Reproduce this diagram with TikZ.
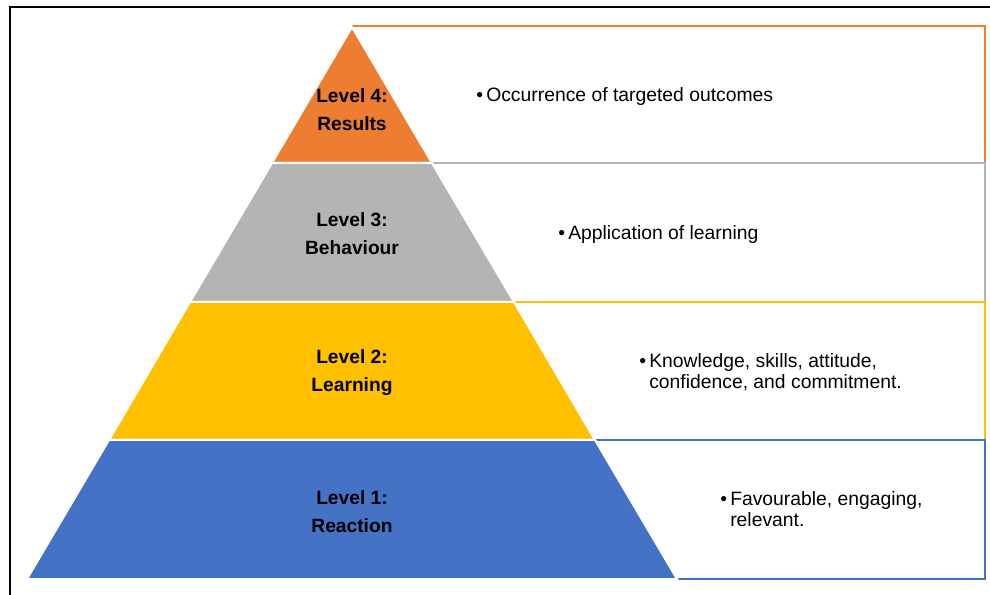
\documentclass[tikz,border=0pt]{standalone}
\usepackage{fontspec}
\setmainfont{Liberation Sans}
\usepackage{array}

\definecolor{lvlorange}{HTML}{ED7D31}
\definecolor{lvlgray}{HTML}{B4B4B4}
\definecolor{lvlyellow}{HTML}{FFC000}
\definecolor{lvlblue}{HTML}{4472C4}

\begin{document}
\begin{tikzpicture}[x=7.5pt,y=7.5pt,
  level/.style={draw=white,line width=1.5pt},
  outline/.style={line width=1pt},
  lvllabel/.style={inner sep=0pt,align=center,font=\bfseries\fontsize{14.4}{21}\selectfont},
  bullettext/.style={inner sep=0pt,anchor=west,font=\fontsize{14.5}{15}\selectfont}]

\useasboundingbox (0,0) rectangle (99,-59.5);
\draw [line width=1.1pt] (1.0,-59.5) -- (1.0,-0.7) -- (99,-0.7);

% boxes to the right, top one first so the next top line lies over it
\draw [outline,lvlorange] (35.2,-2.6) -- (98.5,-2.6) -- (98.5,-16.3) -- (43.2,-16.3);
\draw [outline,lvlgray] (43.2,-16.3) -- (98.5,-16.3) -- (98.5,-30.2) -- (51.4,-30.2);
\draw [outline,lvlyellow] (51.4,-30.2) -- (98.5,-30.2) -- (98.5,-44.0) -- (59.5,-44.0);
\draw [outline,lvlblue] (59.5,-44.0) -- (98.5,-44.0) -- (98.5,-57.9) -- (67.7,-57.9);

% pyramid
\filldraw [level,fill=lvlorange] (35.2,-2.7) -- (43.2,-16.3) -- (27.2,-16.3) -- cycle;
\filldraw [level,fill=lvlgray] (27.2,-16.3) -- (43.2,-16.3) -- (51.4,-30.2) -- (19.0,-30.2) -- cycle;
\filldraw [level,fill=lvlyellow] (19.0,-30.2) -- (51.4,-30.2) -- (59.5,-44.0) -- (10.9,-44.0) -- cycle;
\filldraw [level,fill=lvlblue] (10.9,-44.0) -- (59.5,-44.0) -- (67.7,-57.9) -- (2.7,-57.9) -- cycle;

\node [lvllabel] (results) at (35.2,-11.0) {Level 4:\\Results};
\node [lvllabel] (behaviour) at (35.2,-23.4) {Level 3:\\Behaviour};
\node [lvllabel] (learning) at (35.2,-37.3) {Level 2:\\Learning};
\node [lvllabel] (reaction) at (35.2,-51.2) {Level 1:\\Reaction};

\node [bullettext] (outcomes) at (47.6,-9.7) {\begin{tabular}{@{}p{7.5pt}@{}l@{}}\textbullet & Occurrence of targeted outcomes\end{tabular}};
\node [bullettext] (application) at (55.8,-23.5) {\begin{tabular}{@{}p{7.5pt}@{}l@{}}\textbullet & Application of learning\end{tabular}};
\node [bullettext] (knowledge) at (63.9,-37.4) {\begin{tabular}{@{}p{7.5pt}@{}l@{}}\textbullet & Knowledge, skills, attitude,\\ & confidence, and commitment.\end{tabular}};
\node [bullettext] (favourable) at (72.0,-51.2) {\begin{tabular}{@{}p{7.5pt}@{}l@{}}\textbullet & Favourable, engaging,\\ & relevant.\end{tabular}};
\end{tikzpicture}
\end{document}
